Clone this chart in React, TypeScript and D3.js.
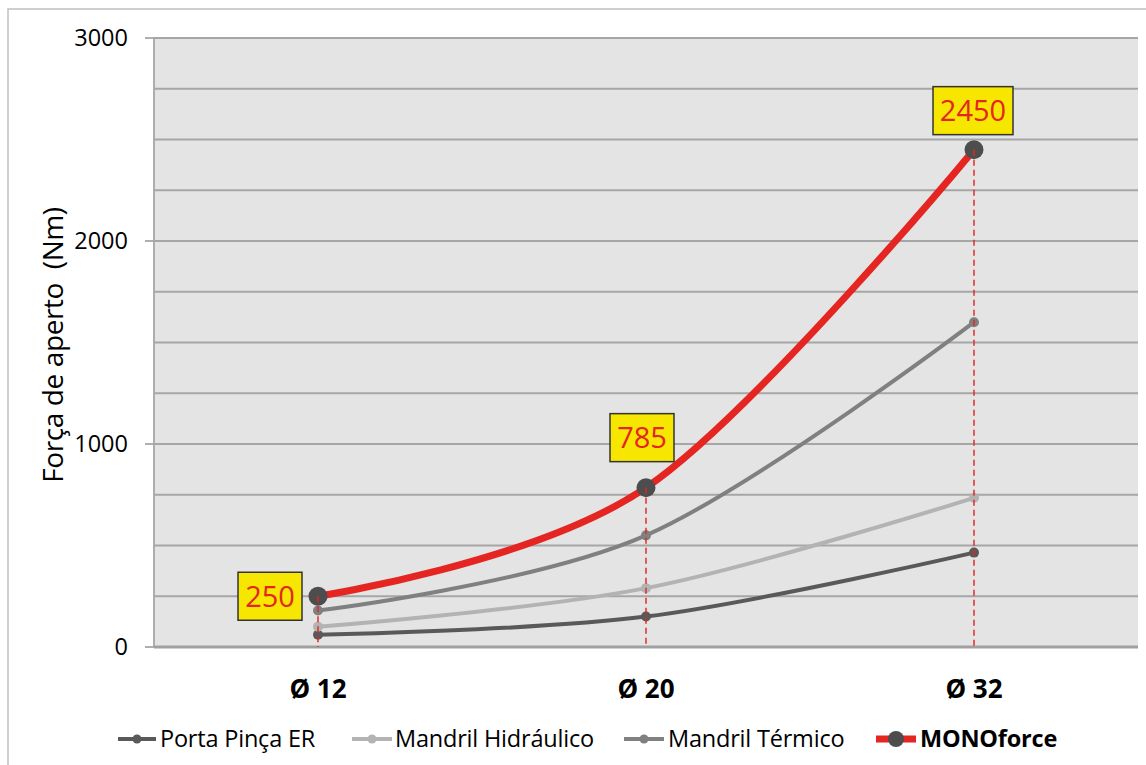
import React from "react";
import * as d3 from "d3";

const categories = ["Ø 12", "Ø 20", "Ø 32"];
const portaPinca = [60, 150, 465];
const mandrilHidraulico = [100, 290, 735];
const mandrilTermico = [180, 550, 1600];
const monoforce = [250, 785, 2450];
const yTicks = [0, 1000, 2000, 3000];
const gridValues = d3.range(0, 3001, 250);

const W = 1146, H = 765;
const plot = { left: 154, right: 1138, top: 38, bottom: 647 };

const series = [
  { name: "Porta Pinça ER", values: portaPinca, color: "#595959", width: 4, r: 5, marker: "#595959", bold: false },
  { name: "Mandril Hidráulico", values: mandrilHidraulico, color: "#b3b3b3", width: 4, r: 5, marker: "#b3b3b3", bold: false },
  { name: "Mandril Térmico", values: mandrilTermico, color: "#808080", width: 4, r: 5, marker: "#808080", bold: false },
  { name: "MONOforce", values: monoforce, color: "#e52521", width: 7, r: 9.5, marker: "#4d4d4d", bold: true },
];

const legendPos = [
  { x1: 118, x2: 156, tx: 160 },
  { x1: 352, x2: 392, tx: 395 },
  { x1: 624, x2: 664, tx: 668 },
  { x1: 876, x2: 916, tx: 920 },
];

const labelBoxes = [
  { dx: -48, dy: 0 },
  { dx: -4, dy: -50 },
  { dx: -1, dy: -39 },
];

export default function App() {
  const x = d3.scaleBand().domain(categories).range([plot.left, plot.right]);
  const y = d3.scaleLinear().domain([0, 3000]).range([plot.bottom, plot.top]);
  const cx = (c: string) => (x(c) as number) + x.bandwidth() / 2;
  const line = d3
    .line<number>()
    .x((_, i) => cx(categories[i]))
    .y((v) => y(v))
    .curve(d3.curveCatmullRom.alpha(0));

  return (
    <svg width={W} height={H} style={{ position: "absolute", left: 0, top: 0 }} fontFamily="'Open Sans', sans-serif">
      <rect x={0} y={0} width={W} height={H} fill="#ffffff" />
      <rect x={8} y={9} width={W + 10} height={H + 10} fill="none" stroke="#c0c0c0" strokeWidth={1.5} />
      <rect x={plot.left} y={plot.top} width={plot.right - plot.left} height={plot.bottom - plot.top} fill="#e3e4e3" />
      {gridValues.map((v) => (
        <line key={v} x1={plot.left} x2={plot.right} y1={y(v)} y2={y(v)} stroke="#a6a6a6" strokeWidth={1.8} />
      ))}
      <line x1={plot.left} x2={plot.left} y1={plot.top} y2={plot.bottom} stroke="#a6a6a6" strokeWidth={1.8} />
      <line x1={plot.left} x2={plot.right} y1={plot.bottom} y2={plot.bottom} stroke="#a0a0a0" strokeWidth={3} />
      {yTicks.map((v) => (
        <g key={v}>
          <line x1={plot.left - 9} x2={plot.left} y1={y(v)} y2={y(v)} stroke="#a6a6a6" strokeWidth={1.8} />
          <text x={128} y={y(v)} dy="0.35em" textAnchor="end" fontSize={23.5} fill="#000">
            {v}
          </text>
        </g>
      ))}
      <text
        transform={`translate(63,345) rotate(-90)`}
        textAnchor="middle"
        fontSize={28}
        letterSpacing={-0.4}
        fill="#000"
        style={{ whiteSpace: "pre" }}
      >
        {"Força de aperto  (Nm)"}
      </text>
      {categories.map((c) => (
        <text key={c} x={cx(c)} y={698} textAnchor="middle" fontSize={26} fontWeight="bold" fill="#000">
          {c}
        </text>
      ))}
      {series.map((s) => (
        <g key={s.name}>
          <path d={line(s.values) || ""} fill="none" stroke={s.color} strokeWidth={s.width} strokeLinecap="round" />
        </g>
      ))}
      {series.map((s) => (
        <g key={s.name + "m"}>
          {s.values.map((v, i) => (
            <circle key={i} cx={cx(categories[i])} cy={y(v)} r={s.r} fill={s.marker} />
          ))}
        </g>
      ))}
      {monoforce.map((v, i) => (
        <line
          key={"o" + i}
          x1={cx(categories[i])}
          x2={cx(categories[i])}
          y1={y(v)}
          y2={plot.bottom}
          stroke="#e52521"
          strokeWidth={1.6}
          strokeDasharray="6,4"
          opacity={0.9}
        />
      ))}
      {monoforce.map((v, i) => {
        const px = cx(categories[i]) + labelBoxes[i].dx;
        const py = y(v) + labelBoxes[i].dy;
        const txt = String(v);
        const w = txt.length * 16 + 16;
        return (
          <g key={"l" + i}>
            <rect x={px - w / 2} y={py - 24} width={w} height={48} fill="#f7e600" stroke="#333" strokeWidth={1.5} />
            <text x={px} y={py} dy="0.36em" textAnchor="middle" fontSize={29} fill="#e52521">
              {txt}
            </text>
          </g>
        );
      })}
      {series.map((s, i) => {
        const lp = legendPos[i];
        const ly = 739;
        return (
          <g key={"lg" + i}>
            <line x1={lp.x1} x2={lp.x2} y1={ly} y2={ly} stroke={s.color} strokeWidth={s.width} />
            <circle cx={(lp.x1 + lp.x2) / 2} cy={ly} r={s.bold ? 8 : 4.5} fill={s.marker} />
            <text x={lp.tx} y={ly} dy="0.35em" fontSize={23.5} letterSpacing={-0.2} fontWeight={s.bold ? "bold" : "normal"} fill="#000">
              {s.name}
            </text>
          </g>
        );
      })}
    </svg>
  );
}
